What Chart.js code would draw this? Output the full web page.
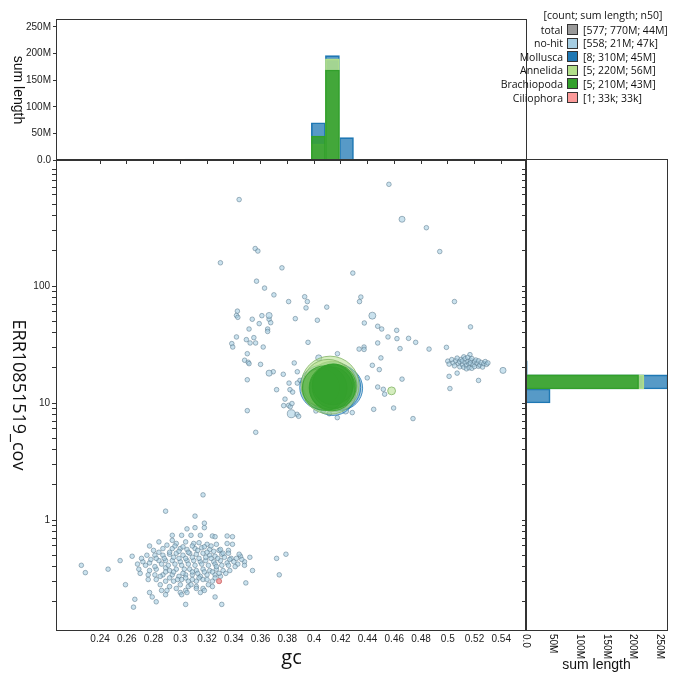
<!DOCTYPE html>
<html>
<head>
<meta charset="utf-8">
<script src="https://cdn.jsdelivr.net/npm/chart.js@4.4.1/dist/chart.umd.min.js"></script>
<style>
  body { margin: 0; background: #fff; width: 680px; height: 687px; position: relative; overflow: hidden; }
  canvas { position: absolute; left: 0; top: 0; }
  #legend { position: absolute; left: 0; top: 0; width: 680px; height: 120px; font-family: 'Open Sans', sans-serif; font-size: 10.5px; color: #111; }
  #legend div { position: absolute; line-height: 14px; white-space: nowrap; }
  #legend .hdr { transform: translateX(-50%); }
  #legend .box { width: 11px; height: 11px; box-sizing: border-box; border: 1.5px solid #333; }
</style>
</head>
<body>
<canvas id="topHist" width="680" height="687"></canvas>
<canvas id="rightHist" width="680" height="687"></canvas>
<canvas id="blob" width="680" height="687"></canvas>
<div id="legend"></div>
<script>
// axis ranges and ticks
const xMin = 0.2078, xMax = 0.5585;
const yMin = 0.1148, yMax = 1194;
const histMax = 263;
const xTicks = [0.24, 0.26, 0.28, 0.30, 0.32, 0.34, 0.36, 0.38, 0.40, 0.42, 0.44, 0.46, 0.48, 0.50, 0.52, 0.54];
const yLabelled = [1, 10, 100];
const histTicks = [0, 50, 100, 150, 200, 250];

// no-hit contigs [gc, cov]
const lowCluster = [
  [0.318,0.94],[0.311,0.86],[0.318,0.86],[0.305,0.84],[0.294,0.74],[0.294,0.67],[0.301,0.74],[0.308,0.74],[0.315,0.74],[0.324,0.73],[0.326,0.72],[0.335,0.73],[0.339,0.72],
  [0.277,0.60],[0.284,0.65],[0.290,0.61],[0.297,0.63],[0.304,0.65],[0.310,0.63],[0.314,0.64],[0.320,0.62],[0.327,0.62],[0.335,0.63],[0.339,0.62],
  [0.280,0.55],[0.284,0.53],[0.287,0.57],[0.294,0.57],[0.300,0.57],[0.305,0.56],[0.311,0.57],[0.316,0.58],[0.322,0.56],[0.329,0.55],[0.336,0.55],
  [0.264,0.49],[0.275,0.50],[0.281,0.50],[0.287,0.50],[0.292,0.51],[0.297,0.52],[0.302,0.50],[0.307,0.52],[0.312,0.51],[0.317,0.52],[0.322,0.50],[0.326,0.49],[0.331,0.51],[0.336,0.52],[0.345,0.49],[0.352,0.48],
  [0.255,0.45],[0.272,0.44],[0.277,0.43],[0.284,0.45],[0.289,0.45],[0.294,0.45],[0.300,0.44],[0.305,0.45],[0.310,0.45],[0.315,0.44],[0.319,0.45],[0.325,0.44],[0.330,0.45],[0.335,0.43],[0.340,0.44],[0.343,0.42],[0.348,0.44],
  [0.246,0.38],[0.269,0.38],[0.277,0.37],[0.282,0.38],[0.289,0.39],[0.292,0.37],[0.297,0.38],[0.303,0.38],[0.307,0.38],[0.312,0.37],[0.317,0.38],[0.322,0.37],[0.327,0.38],[0.332,0.37],[0.337,0.37],[0.354,0.37],
  [0.270,0.35],[0.276,0.34],[0.281,0.34],[0.287,0.34],[0.294,0.34],[0.299,0.33],[0.304,0.34],[0.309,0.34],[0.315,0.33],[0.320,0.34],[0.326,0.34],[0.330,0.33],
  [0.276,0.31],[0.282,0.31],[0.289,0.30],[0.295,0.30],[0.301,0.31],[0.306,0.30],[0.312,0.30],[0.317,0.31],[0.324,0.30],[0.329,0.30],
  [0.259,0.28],[0.285,0.28],[0.292,0.27],[0.300,0.28],[0.306,0.27],[0.312,0.27],[0.317,0.26],[0.324,0.27],[0.349,0.29],
  [0.286,0.25],[0.290,0.25],[0.304,0.25],[0.312,0.26],[0.277,0.24],[0.289,0.23],[0.300,0.24],[0.305,0.24],[0.315,0.24],[0.326,0.22],
  [0.279,0.22],[0.266,0.21],[0.282,0.20],[0.304,0.19],[0.331,0.19],[0.265,0.18]
];
const lowDense = [
  [0.296,0.60],[0.302,0.59],[0.309,0.60],[0.313,0.55],[0.318,0.59],[0.323,0.60],[0.299,0.54],[0.306,0.53],[0.320,0.53],[0.325,0.54],[0.330,0.56],[0.292,0.53],
  [0.288,0.47],[0.295,0.48],[0.299,0.47],[0.304,0.47],[0.309,0.48],[0.314,0.47],[0.319,0.48],[0.323,0.47],[0.328,0.47],[0.333,0.48],[0.338,0.47],[0.282,0.47],[0.278,0.46],
  [0.286,0.42],[0.291,0.41],[0.296,0.42],[0.301,0.41],[0.306,0.42],[0.311,0.41],[0.316,0.42],[0.321,0.41],[0.326,0.42],[0.331,0.41],[0.336,0.41],[0.341,0.40],[0.281,0.40],
  [0.289,0.36],[0.295,0.36],[0.302,0.35],[0.309,0.36],[0.313,0.35],[0.318,0.36],[0.324,0.36],[0.329,0.35],[0.334,0.35],
  [0.298,0.31],[0.304,0.32],[0.309,0.31],[0.314,0.32],[0.320,0.31],[0.326,0.32],[0.292,0.32],[0.285,0.33],
  [0.297,0.26],[0.308,0.28],[0.321,0.28],[0.301,0.23],[0.318,0.25],[0.327,0.40],[0.332,0.52],[0.337,0.46],[0.342,0.47],[0.344,0.51],[0.346,0.46],[0.348,0.41],
  [0.274,0.41],[0.271,0.47],[0.268,0.42]
];
const lowOutliers = [[0.317,1.64],[0.289,1.19],[0.311,1.08],[0.226,0.41],[0.229,0.355],[0.372,0.47],[0.379,0.51],[0.374,0.34]];
const midScatter = [
  [0.344,548],[0.456,740],[0.484,315],[0.494,197],[0.330,158],[0.356,209],[0.358,199],[0.376,143],[0.429,129],[0.357,110],
  [0.363,96],[0.370,84],[0.381,73.6],[0.393,81],[0.395,73.6],[0.434,73.6],[0.435,80.5],[0.505,73.6],[0.4095,66],[0.394,65],
  [0.3427,61],[0.342,56],[0.343,54],[0.3538,52],[0.361,55.8],[0.3664,52],[0.3676,48.6],[0.359,47.7],[0.386,52.6],[0.4025,51],
  [0.4376,48.3],[0.4476,45.3],[0.4506,42.9],[0.4618,41.8],[0.4553,36.7],[0.3514,42.9],[0.3653,42.9],[0.3653,40.9],[0.342,36.7],[0.3494,34.8],
  [0.355,36.2],[0.3522,32.6],[0.3563,32.6],[0.3385,32.2],[0.3392,30.1],[0.362,30.1],[0.3955,33],[0.4476,32.6],[0.4337,28.9],[0.4374,30.1],
  [0.4374,28.7],[0.3501,26.4],[0.3481,23.2],[0.3508,22.3],[0.3514,21.7],[0.360,21.4],[0.4175,26.4],[0.3852,22.0],[0.450,24.3],[0.4436,21.0],
  [0.4488,19.3],[0.3695,18.5],[0.377,17.6],[0.3875,18.5],[0.3501,15.8],[0.3813,14.8],[0.3895,15.6],[0.3875,14.8],[0.4398,16.4],[0.4476,13.7],
  [0.4518,13.1],[0.4528,11.9],[0.372,13.0],[0.382,13.0],[0.384,12.4],[0.3783,10.8],[0.3773,9.5],[0.381,9.55],[0.3822,9.3],[0.3835,9.9],
  [0.3873,8.0],[0.3885,7.7],[0.3501,8.6],[0.3564,5.62],[0.4286,8.28],[0.4114,8.1],[0.4174,7.5],[0.4069,8.55],[0.4014,8.55],[0.4446,8.83],
  [0.4595,9.06],[0.4643,29.2],[0.462,35.5],[0.474,7.36],[0.4658,16.0],[0.486,28.9],[0.476,33],[0.4707,35.7],[0.499,29.9],[0.517,44.7],
  [0.501,16.9],[0.507,18.0],[0.5016,13.3],[0.523,15.6],[0.5166,25.9]
];
const highGcCluster = [
  [0.500,22.8],[0.501,21.5],[0.503,23.5],[0.504,22.0],[0.505,20.8],[0.506,23.0],[0.507,24.2],[0.508,21.8],[0.509,22.6],[0.509,20.4],
  [0.510,23.6],[0.511,21.2],[0.511,22.9],[0.512,24.8],[0.512,20.2],[0.513,22.1],[0.513,23.9],[0.514,21.0],[0.514,19.6],[0.515,22.7],
  [0.515,24.5],[0.516,21.6],[0.516,20.0],[0.517,23.2],[0.517,22.0],[0.518,19.8],[0.518,24.0],[0.519,21.3],[0.520,22.5],[0.520,20.5],
  [0.521,23.3],[0.522,21.8],[0.523,20.6],[0.523,22.9],[0.524,21.1],[0.525,22.2],[0.526,20.3],[0.527,21.7],[0.528,22.6],[0.529,21.4],[0.530,22.0]
];
const noHitSmallLen = 0.01; // Mb, typical small contig
// larger no-hit contigs [gc, cov, length Mb]
const noHitLarge = [[0.4436,55.8,0.24],[0.4658,372,0.11],[0.3664,56,0.12],[0.3664,18.0,0.12],[0.383,8.1,0.43],[0.4236,8.55,0.12],[0.4035,24.3,0.12],[0.5413,19.0,0.12]];

// taxa [gc, cov, length Mb]
const mollusca = [[0.4172,13.6,50],[0.415,14.2,47],[0.420,13.4,42],[0.406,13.6,44],[0.4142,12.2,45],[0.4045,14.2,26],[0.412,14.7,38],[0.4165,15.6,18]];
const annelida = [[0.412,14.2,78],[0.4135,13.9,56],[0.4105,14.45,56],[0.405,13.6,30],[0.458,12.7,0.4]];
const brachiopoda = [[0.4135,13.5,47],[0.408,13.4,44],[0.415,13.9,43],[0.4127,13.4,40],[0.4142,14.45,36]];
const ciliophora = [[0.329,0.30,0.033]];

// top histogram: gc bin centres, sum length (Mb)
const topBins = [0.21425,0.22475,0.23525,0.24575,0.25625,0.26675,0.27725,0.28775,0.29825,0.30875,0.31925,0.32975,0.34025,0.35075,0.36125,0.37175,0.38225,0.39275,0.40325,0.41375,0.42425,0.43475,0.44525,0.45575,0.46625,0.47675,0.48725,0.49775,0.50825,0.51875,0.52925,0.53975,0.55025];
const topNoHit = [0.02,0.03,0,0.05,0.1,0.2,0.3,0.8,1.2,1.5,1.3,0.8,0.6,0.8,0.7,0.6,1.0,1.2,1.5,1.0,1.0,0.8,0.9,0.5,0.5,0.3,0.3,0.8,1.5,1.5,0.5,0.3,0];
const topMollusca = [0,0,0,0,0,0,0,0,0,0,0,0,0,0,0,0,0,0,70,196,42,0,0,0,0,0,0,0,0,0,0,0,0];
const topAnnelida = [0,0,0,0,0,0,0,0,0,0,0,0,0,0,0,0,0,0,30,190,0,0,0,0.4,0,0,0,0,0,0,0,0,0];
const topBrachiopoda = [0,0,0,0,0,0,0,0,0,0,0,0,0,0,0,0,0,0,45,169,0,0,0,0,0,0,0,0,0,0,0,0,0];
const topCiliophora = [0,0,0,0,0,0,0,0,0,0,0,0.033,0,0,0,0,0,0,0,0,0,0,0,0,0,0,0,0,0,0,0,0,0];

// right histogram: coverage bin centres, sum length (Mb)
const rightBins = [0.138,0.182,0.240,0.316,0.417,0.550,0.724,0.955,1.259,1.660,2.188,2.884,3.802,5.012,6.607,8.710,11.48,15.14,19.95,26.30,34.67,45.71,60.26,79.43,104.7,138.0,182.0,239.9,316.2,416.9,549.5,724.4,955.0];
const rightNoHit = [0,0.2,0.6,1.2,1.5,1.2,0.6,0.3,0.1,0.05,0,0,0,0.2,0.4,1.0,0.8,1.5,3.0,1.3,1.0,1.2,1.0,0.8,0.5,0.3,0.3,0.2,0.2,0,0.1,0.1,0];
const rightMollusca = [0,0,0,0,0,0,0,0,0,0,0,0,0,0,0,0,45,265,0,0,0,0,0,0,0,0,0,0,0,0,0,0,0];
const rightAnnelida = [0,0,0,0,0,0,0,0,0,0,0,0,0,0,0,0,0,220,0,0,0,0,0,0,0,0,0,0,0,0,0,0,0];
const rightBrachiopoda = [0,0,0,0,0,0,0,0,0,0,0,0,0,0,0,0,0,210,0,0,0,0,0,0,0,0,0,0,0,0,0,0,0];
const rightCiliophora = [0,0,0,0.033,0,0,0,0,0,0,0,0,0,0,0,0,0,0,0,0,0,0,0,0,0,0,0,0,0,0,0,0,0];

// legend
const legendNames = ['total', 'no-hit', 'Mollusca', 'Annelida', 'Brachiopoda', 'Ciliophora'];
const legendStats = ['[577; 770M; 44M]', '[558; 21M; 47k]', '[8; 310M; 45M]', '[5; 220M; 56M]', '[5; 210M; 43M]', '[1; 33k; 33k]'];

const colors = {
  total: '#999999', 'no-hit': '#a6cee3', Mollusca: '#1f78b4',
  Annelida: '#b2df8a', Brachiopoda: '#33a02c', Ciliophora: '#fb9a99'
};
const tickFont = { family: "'Liberation Sans', Arial, sans-serif", size: 10 };
const axisColor = '#333';

function radiusFor(lenMb) {
  return 2 + 3.06 * Math.sqrt(lenMb);
}

function yLogTicks(scale) {
  const ticks = [];
  [0.1, 1, 10, 100, 1000].forEach(d => {
    for (let m = 1; m <= 9; m++) {
      const v = m * d;
      if (v >= yMin && v <= yMax) ticks.push({ value: v });
    }
  });
  scale.ticks = ticks;
}

function drawText(ctx, text, x, y, angle, font, align, baseline) {
  ctx.save();
  ctx.translate(x, y);
  ctx.rotate(angle);
  ctx.font = font;
  ctx.fillStyle = '#111';
  ctx.textAlign = align || 'center';
  ctx.textBaseline = baseline || 'middle';
  ctx.fillText(text, 0, 0);
  ctx.restore();
}

function frame(chart) {
  const { ctx, chartArea: a } = chart;
  ctx.save();
  ctx.strokeStyle = axisColor;
  ctx.lineWidth = 1;
  ctx.strokeRect(Math.round(a.left) - 0.5, Math.round(a.top) - 0.5, Math.round(a.right - a.left) + 1, Math.round(a.bottom - a.top) + 1);
  ctx.restore();
}

// --- main blob plot ---
const toPoints = (list, len) => list.map(p => ({ x: p[0], y: p[1], r: radiusFor(len !== undefined ? len : p[2]) }));
const noHitStyle = { backgroundColor: 'rgba(166,206,227,0.6)', borderColor: 'rgba(85,115,135,0.65)', borderWidth: 0.8, order: 6 };

new Chart(document.getElementById('blob'), {
  type: 'bubble',
  data: {
    datasets: [
      { label: 'no-hit', data: toPoints(lowCluster.concat(lowDense, lowOutliers, midScatter, highGcCluster), noHitSmallLen), ...noHitStyle },
      { label: 'no-hit large', data: toPoints(noHitLarge), ...noHitStyle, order: 5 },
      { label: 'Mollusca', data: toPoints(mollusca), backgroundColor: 'rgba(31,120,180,0.3)', borderColor: 'rgba(31,120,180,0.8)', borderWidth: 1, order: 4 },
      { label: 'Annelida', data: toPoints(annelida), backgroundColor: 'rgba(178,223,138,0.55)', borderColor: 'rgba(130,180,100,0.8)', borderWidth: 1, order: 3 },
      { label: 'Brachiopoda', data: toPoints(brachiopoda), backgroundColor: 'rgba(51,160,44,0.55)', borderColor: 'rgba(51,160,44,0.8)', borderWidth: 1, order: 2 },
      { label: 'Ciliophora', data: toPoints(ciliophora), backgroundColor: 'rgba(251,154,153,0.8)', borderColor: '#d9706f', borderWidth: 0.8, order: 1 }
    ]
  },
  options: {
    responsive: false,
    animation: false,
    events: [],
    layout: { padding: { left: 0, top: 160, right: 154, bottom: 0 } },
    plugins: { legend: { display: false }, tooltip: { enabled: false } },
    scales: {
      x: {
        type: 'linear', min: xMin, max: xMax,
        afterBuildTicks: s => { s.ticks = xTicks.map(v => ({ value: v })); },
        afterFit: s => { s.height = 57; },
        ticks: { callback: v => String(Number(v.toFixed(2))), font: tickFont, color: '#222', padding: 3, maxRotation: 0, autoSkip: false },
        grid: { drawOnChartArea: false, drawTicks: false },
        border: { display: false }
      },
      y: {
        type: 'logarithmic', min: yMin, max: yMax,
        afterBuildTicks: yLogTicks,
        afterFit: s => { s.width = 57; },
        ticks: { callback: v => yLabelled.includes(v) ? String(v) : '', font: tickFont, color: '#222', padding: 2, autoSkip: false },
        grid: { drawOnChartArea: false, tickLength: 5, color: axisColor },
        border: { display: false }
      }
    }
  },
  plugins: [{
    id: 'blobDecor',
    afterDraw(chart) {
      const a = chart.chartArea;
      frame(chart);
      drawText(chart.ctx, 'ERR10851519_cov', 18, (a.top + a.bottom) / 2, Math.PI / 2, "18px 'Open Sans'");
      drawText(chart.ctx, 'gc', (a.left + a.right) / 2, 658, 0, "20px 'Open Sans'");
    }
  }]
});

// --- histograms (all series share one stack slot so bars overlap, values not summed) ---
const histStyles = {
  'no-hit': { backgroundColor: 'rgba(166,206,227,0.85)', borderColor: '#a6cee3', order: 5 },
  Mollusca: { backgroundColor: 'rgba(31,120,180,0.75)', borderColor: '#1f78b4', order: 4 },
  Annelida: { backgroundColor: 'rgba(178,223,138,0.85)', borderColor: '#b2df8a', order: 3 },
  Brachiopoda: { backgroundColor: 'rgba(51,160,44,0.85)', borderColor: '#33a02c', order: 2 },
  Ciliophora: { backgroundColor: 'rgba(251,154,153,0.85)', borderColor: '#fb9a99', order: 1 }
};
const barDefaults = { barThickness: 'flex', categoryPercentage: 1, barPercentage: 1, borderWidth: 1 };

function topSet(name, values) {
  return { label: name, stack: 'hist', data: topBins.map((b, i) => ({ x: b, y: values[i] })), ...histStyles[name] };
}
function rightSet(name, values) {
  return { label: name, stack: 'hist', data: rightBins.map((b, i) => ({ x: values[i], y: b })), ...histStyles[name] };
}

new Chart(document.getElementById('topHist'), {
  type: 'bar',
  data: {
    datasets: [
      topSet('no-hit', topNoHit), topSet('Mollusca', topMollusca), topSet('Annelida', topAnnelida),
      topSet('Brachiopoda', topBrachiopoda), topSet('Ciliophora', topCiliophora)
    ]
  },
  options: {
    responsive: false,
    animation: false,
    events: [],
    datasets: { bar: barDefaults },
    layout: { padding: { left: 0, top: 20, right: 154, bottom: 522 } },
    plugins: { legend: { display: false }, tooltip: { enabled: false } },
    scales: {
      x: {
        type: 'linear', min: xMin, max: xMax, offset: false,
        afterBuildTicks: s => { s.ticks = xTicks.map(v => ({ value: v })); },
        afterFit: s => { s.height = 5; },
        ticks: { display: false },
        grid: { offset: false, drawOnChartArea: false, tickLength: 4, color: axisColor },
        border: { display: false }
      },
      y: {
        type: 'linear', min: 0, max: histMax, stacked: false,
        afterBuildTicks: s => { s.ticks = histTicks.map(v => ({ value: v })); },
        afterFit: s => { s.width = 57; },
        ticks: { callback: v => v === 0 ? '0.0' : v + 'M', font: tickFont, color: '#222', padding: 2 },
        grid: { drawOnChartArea: false, tickLength: 4, color: axisColor },
        border: { display: false }
      }
    }
  },
  plugins: [{
    id: 'topDecor',
    afterDraw(chart) {
      const a = chart.chartArea;
      frame(chart);
      drawText(chart.ctx, 'sum length', 18, (a.top + a.bottom) / 2, Math.PI / 2, "14px 'Liberation Sans', Arial");
    }
  }]
});

new Chart(document.getElementById('rightHist'), {
  type: 'bar',
  data: {
    datasets: [
      rightSet('no-hit', rightNoHit), rightSet('Mollusca', rightMollusca), rightSet('Annelida', rightAnnelida),
      rightSet('Brachiopoda', rightBrachiopoda), rightSet('Ciliophora', rightCiliophora)
    ]
  },
  options: {
    indexAxis: 'y',
    responsive: false,
    animation: false,
    events: [],
    datasets: { bar: barDefaults },
    layout: { padding: { left: 521, top: 160, right: 13, bottom: 0 } },
    plugins: { legend: { display: false }, tooltip: { enabled: false } },
    scales: {
      y: {
        type: 'logarithmic', min: yMin, max: yMax, offset: false,
        afterBuildTicks: yLogTicks,
        afterFit: s => { s.width = 5; },
        ticks: { display: false },
        grid: { offset: false, drawOnChartArea: false, tickLength: 4, color: axisColor },
        border: { display: false }
      },
      x: {
        type: 'linear', min: 0, max: histMax, stacked: false,
        afterBuildTicks: s => { s.ticks = histTicks.map(v => ({ value: v })); },
        afterFit: s => { s.height = 57; },
        ticks: { display: false },
        grid: { drawOnChartArea: false, drawTicks: false },
        border: { display: false }
      }
    }
  },
  plugins: [{
    id: 'rightDecor',
    afterDraw(chart) {
      const a = chart.chartArea;
      const xs = chart.scales.x;
      frame(chart);
      histTicks.forEach(v => {
        const label = v === 0 ? '0.0' : v + 'M';
        drawText(chart.ctx, label, xs.getPixelForValue(v), a.bottom + 4, Math.PI / 2, "10px 'Liberation Sans', Arial", 'left', 'middle');
      });
      drawText(chart.ctx, 'sum length', (a.left + a.right) / 2, 665, 0, "14px 'Liberation Sans', Arial");
    }
  }]
});

// --- legend ---
const legend = document.getElementById('legend');
const header = document.createElement('div');
header.className = 'hdr';
header.textContent = '[count; sum length; n50]';
header.style.left = '603px';
header.style.top = '8px';
legend.appendChild(header);
legendNames.forEach((name, i) => {
  const yc = 29.5 + i * 13.6;
  const lab = document.createElement('div');
  lab.textContent = name;
  lab.style.right = '117px';
  lab.style.top = (yc - 7) + 'px';
  const box = document.createElement('div');
  box.className = 'box';
  box.style.left = '567px';
  box.style.top = (yc - 5.5) + 'px';
  box.style.background = colors[name];
  const stat = document.createElement('div');
  stat.textContent = legendStats[i];
  stat.style.left = '583px';
  stat.style.top = (yc - 7) + 'px';
  legend.append(lab, box, stat);
});
</script>
</body>
</html>
